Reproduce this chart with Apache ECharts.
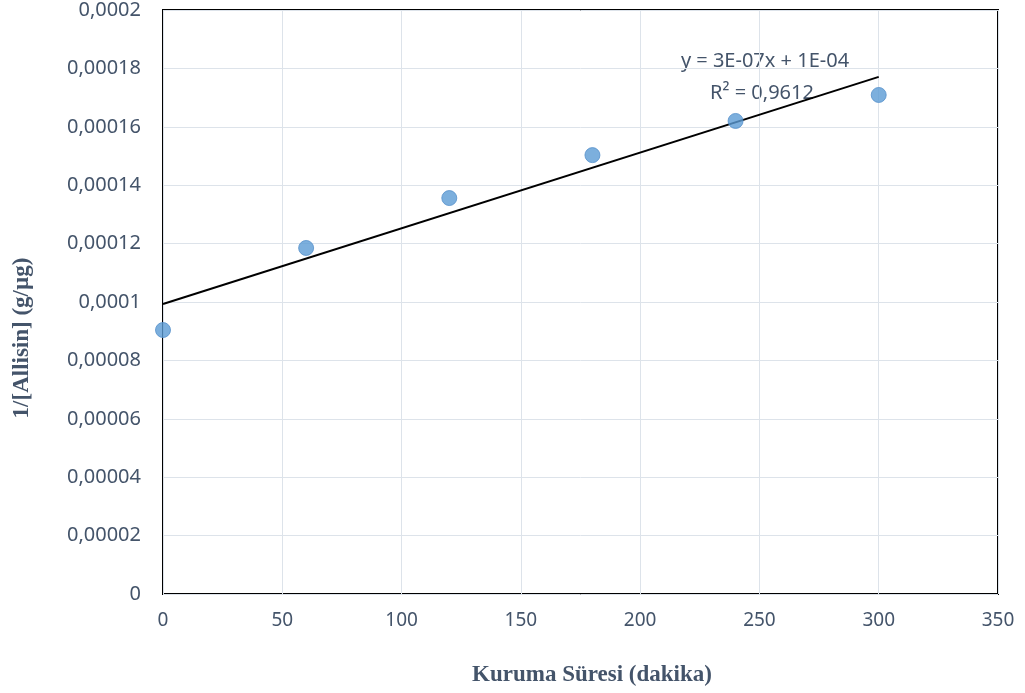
<!DOCTYPE html>
<html>
<head>
<meta charset="utf-8">
<script src="https://cdn.jsdelivr.net/npm/echarts@6/dist/echarts.min.js"></script>
<style>
  html, body { margin: 0; padding: 0; background: #fff; }
  #chart { width: 1025px; height: 693px; }
</style>
</head>
<body>
<div id="chart"></div>
<script>
// drying time (min) and 1/[Allisin]
const kuruma_suresi = [0, 60, 120, 180, 240, 300];
const ters_allisin = [0.0000904, 0.0001185, 0.0001356, 0.0001503, 0.000162, 0.0001709];
// linear trendline end points
const trend_x = [0, 300];
const trend_y = [0.0000993, 0.0001771];
const trend_text = ['y = 3E-07x + 1E-04', 'R² = 0,9612'];
const x_title = 'Kuruma Süresi (dakika)';
const y_title = '1/[Allisin] (g/µg)';

const label_color = '#44546a';
const label_font = "'Noto Sans', sans-serif";
const title_font = "bold 23px 'Liberation Serif', serif";
const eq_font = "20px 'Noto Sans', sans-serif";

const chart = echarts.init(document.getElementById('chart'));

const option = {
    animation: false,
    grid: {
        left: 163,
        right: 27,
        top: 10,
        bottom: 99,
        show: true,
        borderColor: '#000',
        borderWidth: 2,
    },
    xAxis: {
        type: 'value',
        min: 0,
        max: 350,
        interval: 50,
        axisLine: { show: false },
        axisTick: { show: false },
        axisLabel: {
            color: label_color,
            fontFamily: label_font,
            fontSize: 19,
            margin: 17,
        },
        splitLine: { lineStyle: { color: '#dde3ea', width: 1 } },
    },
    yAxis: {
        type: 'value',
        min: 0,
        max: 0.0002,
        interval: 0.00002,
        axisLine: { show: false },
        axisTick: { show: false },
        axisLabel: {
            color: label_color,
            fontFamily: label_font,
            fontSize: 20,
            margin: 22,
            formatter: (v) => String(+v.toPrecision(6)).replace('.', ','),
        },
        splitLine: { lineStyle: { color: '#dde3ea', width: 1 } },
    },
    graphic: [
        {
            type: 'text',
            x: 592,
            y: 675,
            style: { text: x_title, fill: label_color, font: title_font, align: 'center', verticalAlign: 'middle' },
        },
        {
            type: 'text',
            x: 22,
            y: 338,
            rotation: Math.PI / 2,
            style: { text: y_title, fill: label_color, font: title_font, align: 'center', verticalAlign: 'middle' },
        },
        {
            type: 'text',
            z: 0,
            x: 765,
            y: 61,
            style: { text: trend_text[0], fill: label_color, font: eq_font, align: 'center', verticalAlign: 'middle' },
        },
        {
            type: 'text',
            z: 0,
            x: 762,
            y: 93,
            style: { text: trend_text[1], fill: label_color, font: eq_font, align: 'center', verticalAlign: 'middle' },
        },
    ],
    series: [
        {
            name: 'Trend',
            type: 'line',
            symbol: 'none',
            data: trend_x.map((x, i) => [x, trend_y[i]]),
            lineStyle: { color: '#000', width: 2 },
            z: 5,
        },
        {
            name: '1/[Allisin]',
            type: 'scatter',
            symbolSize: 15,
            data: kuruma_suresi.map((x, i) => [x, ters_allisin[i]]),
            itemStyle: { color: '#5b9bd5', borderColor: '#5590ca', borderWidth: 1 },
            z: 6,
        },
    ],
};

chart.setOption(option);
</script>
</body>
</html>
